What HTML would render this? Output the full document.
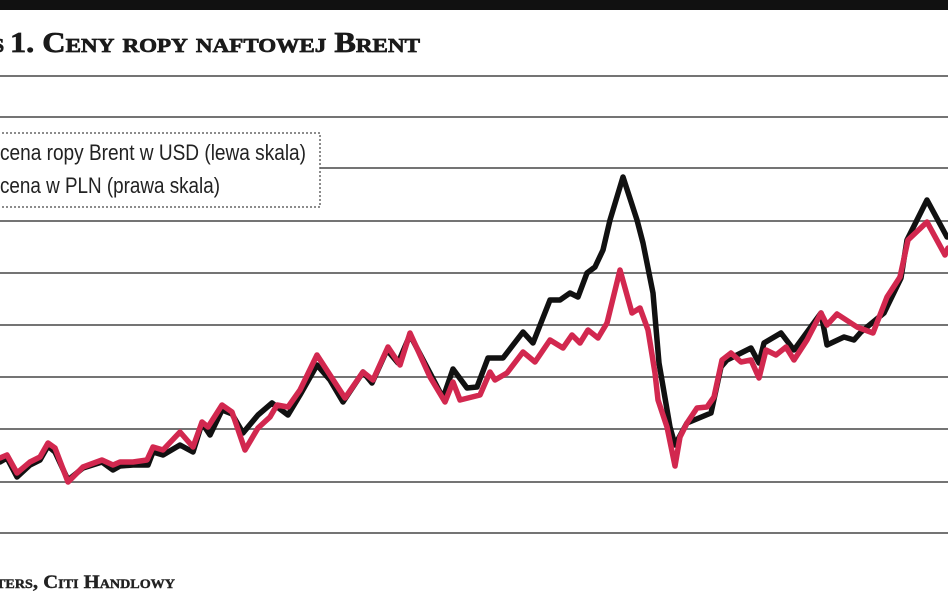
<!DOCTYPE html>
<html>
<head>
<meta charset="utf-8">
<style>
html,body{margin:0;padding:0;background:#fff;}
body{width:948px;height:593px;overflow:hidden;}
svg{display:block;}
</style>
</head>
<body>
<svg width="948" height="593" viewBox="0 0 948 593" xmlns="http://www.w3.org/2000/svg">
  <rect x="0" y="0" width="948" height="593" fill="#ffffff"/>
  <!-- top black bar -->
  <rect x="0" y="0" width="948" height="10" fill="#111111"/>

  <!-- title -->
  <text x="-7" y="52" font-family="Liberation Serif, serif" font-weight="bold" font-size="28" fill="#1a1a1a" stroke="#1a1a1a" stroke-width="0.7" style="font-variant:small-caps">s</text>
  <text x="10" y="52" font-family="Liberation Serif, serif" font-weight="bold" font-size="28" fill="#1a1a1a" stroke="#1a1a1a" stroke-width="0.7" style="font-variant:small-caps" textLength="410" lengthAdjust="spacingAndGlyphs">1. Ceny ropy naftowej Brent</text>

  <!-- grid lines -->
  <g stroke="#747474" stroke-width="2">
    <line x1="0" y1="76" x2="948" y2="76"/>
    <line x1="0" y1="117" x2="948" y2="117"/>
    <line x1="320" y1="168" x2="948" y2="168"/>
    <line x1="0" y1="221" x2="948" y2="221"/>
    <line x1="0" y1="273" x2="948" y2="273"/>
    <line x1="0" y1="325" x2="948" y2="325"/>
    <line x1="0" y1="377" x2="948" y2="377"/>
    <line x1="0" y1="429" x2="948" y2="429"/>
    <line x1="0" y1="482" x2="948" y2="482"/>
    <line x1="0" y1="533" x2="948" y2="533"/>
  </g>

  <!-- legend box -->
  <rect x="-10" y="133" width="330" height="74" fill="#ffffff" stroke="#666666" stroke-width="1.5" stroke-dasharray="2,2"/>
  <text x="0" y="160" font-family="Liberation Sans, sans-serif" font-size="22" fill="#222" textLength="306" lengthAdjust="spacingAndGlyphs">cena ropy Brent w USD (lewa skala)</text>
  <text x="0" y="193" font-family="Liberation Sans, sans-serif" font-size="22" fill="#222" textLength="220" lengthAdjust="spacingAndGlyphs">cena w PLN (prawa skala)</text>

  <!-- black series (USD) -->
  <polyline fill="none" stroke="#111111" stroke-width="5.5" stroke-linejoin="round" stroke-linecap="round"
    points="0,462 7,458 17,477 30,465 40,460 48,446 55,452 68,480 83,468 102,462 113,470 120,466 133,465 148,465 153,452 163,455 180,445 193,452 202,423 210,435 222,410 232,414 243,433 258,415 272,403 288,415 300,395 317,365 330,380 343,402 363,372 372,383 387,350 398,363 410,335 430,373 443,398 453,369 467,388 477,387 488,358 503,358 523,332 533,343 550,300 560,300 570,293 578,297 587,273 595,267 603,250 610,220 623,177 637,220 643,243 653,293 659,363 670,427 675,445 687,423 711,413 721,367 727,360 751,348 759,363 764,343 781,333 794,350 821,313 827,345 844,337 854,340 861,332 884,313 901,278 907,240 927,200 947,237 948,236"/>

  <!-- red series (PLN) -->
  <polyline fill="none" stroke="#d2284f" stroke-width="5.5" stroke-linejoin="round" stroke-linecap="round"
    points="0,458 7,455 17,473 30,462 40,457 48,443 55,448 68,482 83,467 102,460 113,465 120,462 133,462 147,460 153,447 163,450 180,432 193,447 202,422 208,427 222,405 232,412 245,450 258,428 270,417 277,405 288,407 300,390 317,355 330,375 345,398 363,372 373,380 388,347 400,365 410,333 430,377 445,402 453,382 460,400 480,395 490,372 495,380 507,373 523,352 535,362 550,340 563,348 572,335 580,343 588,330 598,338 607,323 620,270 632,313 640,308 648,330 655,373 658,400 667,427 675,466 680,437 687,423 697,408 707,407 714,397 722,360 731,353 741,362 751,360 759,378 766,350 776,355 786,347 794,360 807,340 821,313 827,325 837,314 857,327 873,333 887,297 900,277 908,240 927,222 945,255 948,248"/>

  <!-- source -->
  <text x="-4" y="588" font-family="Liberation Serif, serif" font-weight="bold" font-size="19" fill="#222" stroke="#222" stroke-width="0.4" style="font-variant:small-caps" textLength="179" lengthAdjust="spacingAndGlyphs">ters, Citi Handlowy</text>
</svg>
</body>
</html>
